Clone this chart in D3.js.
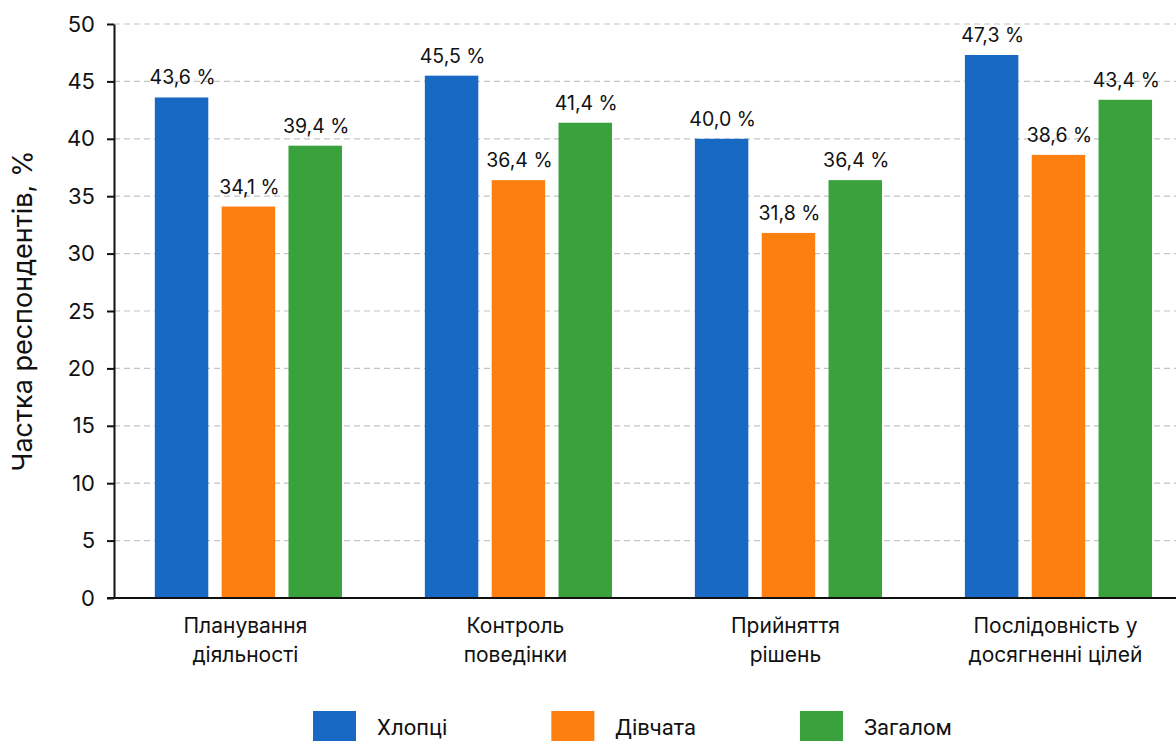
<!DOCTYPE html>
<html lang="uk">
<head>
<meta charset="utf-8">
<script src="https://cdn.jsdelivr.net/npm/d3@7"></script>
<style>
  html, body { margin: 0; padding: 0; background: #fff; }
  svg { display: block; font-family: Inter, "Noto Sans", sans-serif; }
</style>
</head>
<body>
<svg id="chart" width="1176" height="741"></svg>
<script>
// Категорії (дворядкові підписи) та частки респондентів, %
const categories = [
  ["Планування", "діяльності"],
  ["Контроль", "поведінки"],
  ["Прийняття", "рішень"],
  ["Послідовність у", "досягненні цілей"]
];
const seriesNames = ["Хлопці", "Дівчата", "Загалом"];
const boys    = [43.6, 45.5, 40.0, 47.3];
const girls   = [34.1, 36.4, 31.8, 38.6];
const overall = [39.4, 41.4, 36.4, 43.4];
const yTicks  = [0, 5, 10, 15, 20, 25, 30, 35, 40, 45, 50];
const colors  = ["#1769c4", "#fd7f0f", "#3aa23d"];
const yTitle  = "Частка респондентів, %";

const values = [boys, girls, overall];
const rows = categories.map((c, i) => ({
  key: c.join(" "),
  lines: c,
  vals: seriesNames.map((s, j) => ({ series: s, value: values[j][i] }))
}));

const svg = d3.select("#chart");
const W = 1176;
const plotLeft = 114, plotTop = 24, plotBottom = 598;

const y = d3.scaleLinear().domain([0, 50]).range([plotBottom, plotTop]);
const x0 = d3.scaleBand()
  .domain(rows.map(r => r.key))
  .range([plotLeft, W])
  .paddingInner(0.307)
  .paddingOuter(0.12)
  .align(0.63);
const x1 = d3.scaleBand()
  .domain(seriesNames)
  .range([0, x0.bandwidth()])
  .paddingInner(0.2);
const color = d3.scaleOrdinal().domain(seriesNames).range(colors);

// Пунктирна сітка
svg.append("g")
  .selectAll("line")
  .data(yTicks.filter(t => t > 0))
  .join("line")
  .attr("x1", plotLeft).attr("x2", W)
  .attr("y1", d => y(d)).attr("y2", d => y(d))
  .attr("stroke", "#c4c4c4")
  .attr("stroke-width", 1.2)
  .attr("stroke-dasharray", "6,4");

// Стовпчики
const groups = svg.append("g")
  .selectAll("g")
  .data(rows)
  .join("g")
  .attr("transform", d => `translate(${x0(d.key)},0)`);

groups.selectAll("rect")
  .data(d => d.vals)
  .join("rect")
  .attr("x", d => x1(d.series))
  .attr("y", d => y(d.value))
  .attr("width", x1.bandwidth())
  .attr("height", d => y(0) - y(d.value))
  .attr("fill", d => color(d.series));

// Підписи значень
groups.selectAll("text")
  .data(d => d.vals)
  .join("text")
  .attr("x", d => x1(d.series) + x1.bandwidth() / 2 + 1)
  .attr("y", d => y(d.value) - 13)
  .attr("text-anchor", "middle")
  .attr("font-size", 19.5)
  .attr("fill", "#111")
  .text(d => d.value.toFixed(1).replace(".", ",") + " %");

// Вісь Y
const yAxis = svg.append("g")
  .attr("transform", `translate(${plotLeft},0)`)
  .call(d3.axisLeft(y).tickValues(yTicks).tickSize(7).tickPadding(12).tickSizeOuter(0));
yAxis.select(".domain").attr("stroke", "#111").attr("stroke-width", 2);
yAxis.selectAll(".tick line").attr("stroke", "#111").attr("stroke-width", 2);
yAxis.selectAll(".tick text")
  .attr("font-size", 22)
  .attr("font-family", "Inter, 'Noto Sans', sans-serif")
  .attr("fill", "#111");

// Вісь X
const xAxis = svg.append("g")
  .attr("transform", `translate(0,${plotBottom})`)
  .call(d3.axisBottom(x0).tickSize(0).tickFormat(""));
xAxis.select(".domain").remove();
xAxis.append("line")
  .attr("x1", plotLeft - 7).attr("x2", W)
  .attr("stroke", "#111").attr("stroke-width", 2);
xAxis.selectAll(".tick text").remove();
xAxis.selectAll(".tick").append("text")
  .attr("text-anchor", "middle")
  .attr("font-size", 21)
  .attr("font-family", "Inter, 'Noto Sans', sans-serif")
  .attr("fill", "#111")
  .selectAll("tspan")
  .data(k => rows.find(r => r.key === k).lines)
  .join("tspan")
  .attr("x", -3)
  .attr("y", (d, i) => 35 + i * 28.5)
  .text(d => d);

// Назва осі Y
svg.append("text")
  .attr("transform", `translate(32,${(plotTop + plotBottom) / 2}) rotate(-90)`)
  .attr("text-anchor", "middle")
  .attr("font-size", 27)
  .attr("fill", "#111")
  .text(yTitle);

// Легенда
const legend = svg.append("g").attr("transform", "translate(313,711)");
let lx = 0;
seriesNames.forEach((s, i) => {
  const g = legend.append("g").attr("transform", `translate(${lx},0)`);
  g.append("rect").attr("width", 43).attr("height", 43).attr("fill", color(s));
  const t = g.append("text")
    .attr("x", 64).attr("y", 24)
    .attr("font-size", 22)
    .attr("font-family", "Roboto, Inter, sans-serif")
    .attr("fill", "#111")
    .text(s);
  lx += 64 + t.node().getComputedTextLength() + 104;
});
</script>
</body>
</html>
